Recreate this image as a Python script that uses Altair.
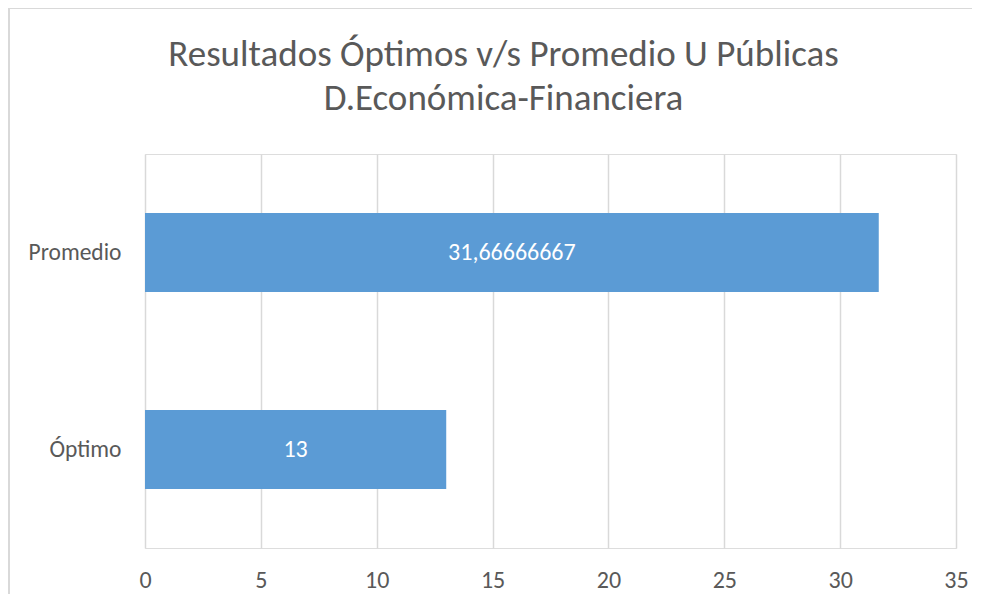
import altair as alt
import pandas as pd

categories = ["Promedio", "Óptimo"]
values = [31.66666667, 13]
labels = ["31,66666667", "13"]
ticks = [0, 5, 10, 15, 20, 25, 30, 35]
title_lines = ["Resultados Óptimos v/s Promedio U Públicas", "D.Económica-Financiera"]

df = pd.DataFrame({"cat": categories, "value": values, "label": labels})

FONT = "Carlito, Lato, sans-serif"
TXT = "#595959"
GRID = "#D9D9D9"

x_enc = alt.X(
    "value:Q",
    scale=alt.Scale(domain=[0, 35], nice=False, zero=True),
    axis=alt.Axis(
        values=ticks, title=None, grid=True, gridColor=GRID, gridWidth=1.5,
        domain=False, ticks=False, labelPadding=20, labelFontSize=24,
        labelColor=TXT, labelFont=FONT, labelFlush=False,
    ),
)
y_enc = alt.Y(
    "cat:N",
    sort=categories,
    scale=alt.Scale(paddingInner=0.6, paddingOuter=0.3),
    axis=alt.Axis(
        title=None, domain=False, ticks=False, grid=False, labelPadding=24,
        labelFontSize=23.5, labelColor=TXT, labelFont=FONT,
    ),
)

bars = alt.Chart(df).mark_bar(color="#5B9BD5").encode(x=x_enc, y=y_enc)

text = (
    alt.Chart(df)
    .transform_calculate(mid="datum.value / 2")
    .mark_text(color="white", fontSize=24, font=FONT, baseline="middle", align="center")
    .encode(x=alt.X("mid:Q"), y=alt.Y("cat:N", sort=categories), text="label:N")
)

frame_left = alt.Chart(df).mark_rule(color=GRID, strokeWidth=2).encode(
    x=alt.value(-136), y=alt.value(-146), y2=alt.value(440)
)
frame_top = alt.Chart(df).mark_rule(color=GRID, strokeWidth=2).encode(
    x=alt.value(-136), x2=alt.value(830), y=alt.value(-146)
)

chart = (
    alt.layer(frame_left, frame_top, bars, text)
    .properties(
        width=811,
        height=394,
        title=alt.TitleParams(
            text=title_lines, font=FONT, fontSize=37, fontWeight="normal",
            color=TXT, anchor="middle", frame="group", dx=-47, offset=-111,
            lineHeight=44,
        ),
        autosize=alt.AutoSizeParams(type="none"),
        padding={"left": 137, "top": 146, "right": 16, "bottom": 50},
    )
    .configure_view(stroke=None)
    .configure(background="white")
)

chart.save("out.html", embed_options={"renderer": "svg", "actions": False})
